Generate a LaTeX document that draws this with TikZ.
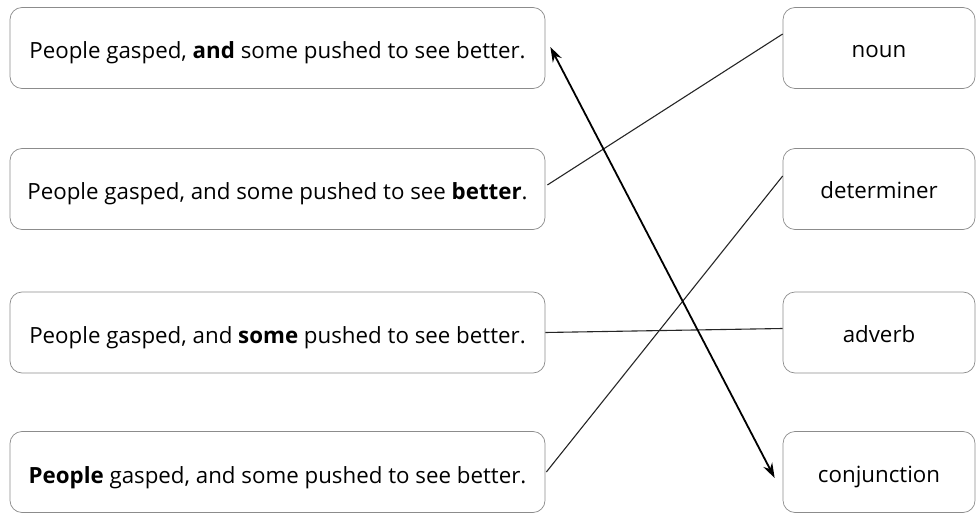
\documentclass[tikz,border=0pt]{standalone}
\usepackage{fontspec}
\setmainfont{Open Sans}
\usetikzlibrary{arrows.meta,calc}
\begin{document}
\begin{tikzpicture}[x=1pt,y=-1pt,
  card/.style={draw=black!45, line width=0.7pt, rounded corners=12pt, fill=white,
    minimum height=81pt, inner sep=0pt, text depth=0pt, font=\fontsize{22.3}{25}\selectfont},
  sentence/.style={card, minimum width=535pt, text height=22pt},
  wordclass/.style={card, minimum width=192pt, text height=20pt},
  link/.style={line width=1.1pt, black!85},
  answer/.style={line width=1.8pt, black, {Stealth[length=15pt,width=10pt]}-{Stealth[length=15pt,width=10pt]}}
]
\useasboundingbox (0,0) rectangle (979,513);

% sentences on the left
\node[sentence] (s1) at (277.5,48)  {People gasped, \textbf{and} some pushed to see better.};
\node[sentence] (s2) at (277.5,189) {People gasped, and some pushed to see \textbf{better}.};
\node[sentence] (s3) at (277.5,332.5) {People gasped, and \textbf{some} pushed to see better.};
\node[sentence] (s4) at (277.5,472) {\textbf{People} gasped, and some pushed to see better.};

% word classes on the right
\node[wordclass] (noun) at (879,48)  {noun};
\node[wordclass] (det)  at (879,189) {determiner};
\node[wordclass] (adv)  at (879,332.5) {adverb};
\node[wordclass] (conj) at (879,472) {conjunction};

% matching lines
\draw[link] ([xshift=2pt,yshift=4pt]s2.east) -- ([yshift=14pt]noun.west);
\draw[link] (s3.east) -- ([yshift=4pt]adv.west);
\draw[link] ([xshift=1pt]s4.east) -- ([yshift=13pt]det.west);
\draw[answer] ([xshift=5pt,yshift=1pt]s1.east) -- ([xshift=-8pt,yshift=-6pt]conj.west);
\end{tikzpicture}
\end{document}
